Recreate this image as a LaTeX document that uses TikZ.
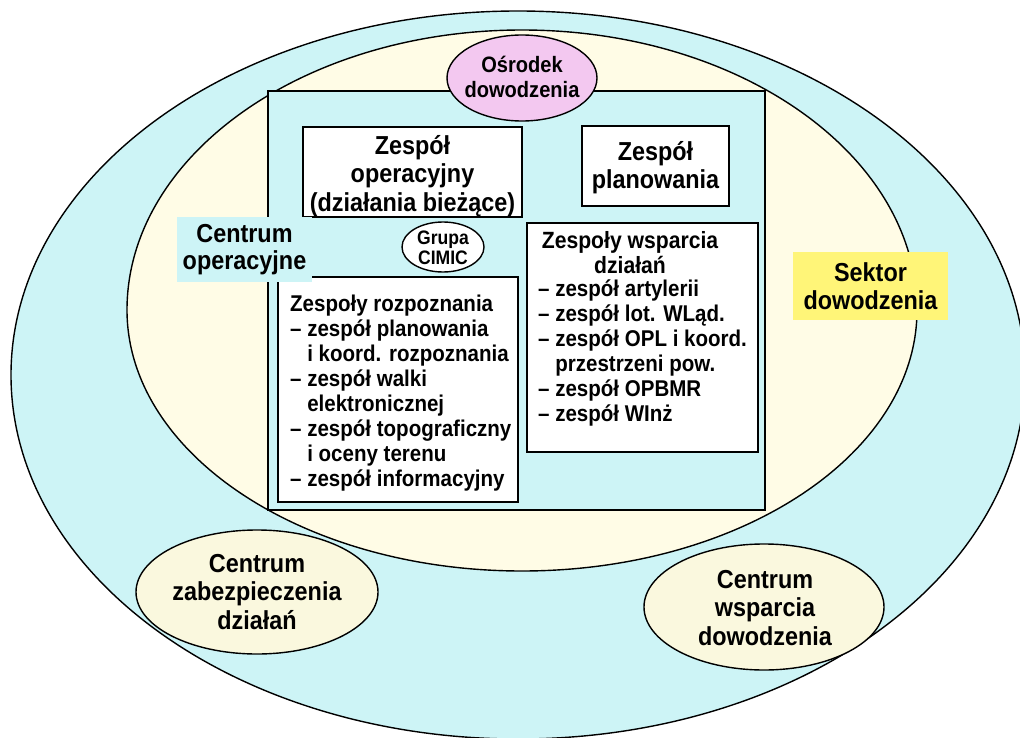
\documentclass[tikz,border=0pt]{standalone}
\usepackage{fontspec}
\setmainfont{Liberation Sans}[FakeStretch=0.9]
\usetikzlibrary{shapes.geometric}

\definecolor{skycyan}{RGB}{205,244,246}
\definecolor{paleyellow}{RGB}{255,252,230}
\definecolor{cream}{RGB}{250,248,222}
\definecolor{lilac}{RGB}{243,200,240}
\definecolor{labelyellow}{RGB}{255,245,120}

% dash of a list item and the matching hanging indent
\newcommand{\listdash}{\mbox{–\ }}
\newcommand{\listhang}{\mbox{\phantom{–\ }}}

\tikzset{
  outl/.style={draw=black, line width=1.4bp},
  whitebox/.style={outl, fill=white, inner sep=0pt},
  oval/.style={ellipse, outl, inner sep=0pt},
  bigtxt/.style={font=\fontsize{26bp}{28.5bp}\selectfont\bfseries, align=center, inner sep=0pt},
  listtxt/.style={font=\fontsize{22.8bp}{25bp}\selectfont\bfseries, align=left, inner sep=0pt},
  headtxt/.style={font=\fontsize{23.5bp}{25bp}\selectfont\bfseries, align=center, inner sep=0pt},
}

\begin{document}
\begin{tikzpicture}[x=1bp, y=-1bp]
\useasboundingbox (0,0) rectangle (1020,738);
\clip (0,0) rectangle (1020,738);
\fill[white] (0,0) rectangle (1020,738);

% command sector (outer ring)
\draw[outl, fill=skycyan] (518,375) ellipse [x radius=507bp, y radius=364bp];

% inner zone: two half ellipses sharing the horizontal axis
\draw[outl, fill=paleyellow]
  (127,310) .. controls (127,155.4) and (303.8,30) .. (522,30)
            .. controls (740.2,30) and (917,155.4) .. (917,310)
            .. controls (917,454.1) and (740.2,571) .. (522,571)
            .. controls (303.8,571) and (127,454.1) .. (127,310) -- cycle;

% lower centres
\node[oval, fill=cream, minimum width=242bp, minimum height=124bp] (zab) at (257,592) {};
\node[bigtxt] (zabtxt) at (zab.center) {Centrum\\zabezpieczenia\\działań};
\node[oval, fill=cream, minimum width=240bp, minimum height=126bp] (wsd) at (764,607) {};
\node[bigtxt] (wsdtxt) at (765,608) {Centrum\\wsparcia\\dowodzenia};

% operations centre
\node[outl, fill=skycyan, minimum width=497bp, minimum height=419bp, inner sep=0pt] (co) at (516.5,300.5) {};

% teams
\node[whitebox, minimum width=219bp, minimum height=90bp] (opbox) at (412.5,172) {};
\node[bigtxt] (optxt) at (412.5,176) {Zespół\\operacyjny\\(działania bieżące)};

\node[whitebox, minimum width=147bp, minimum height=80bp] (planbox) at (655.5,166) {};
\node[bigtxt] (plantxt) at (655.5,167.5) {Zespół\\planowania};

\node[whitebox, minimum width=231bp, minimum height=229bp] (wspbox) at (642.5,337.5) {};
\node[headtxt] (wsphead) at (630,253) {Zespoły wsparcia\\działań};
\node[listtxt, anchor=north west] (wsplist) at (538,280) {\listdash zespół artylerii\\
\listdash zespół lot. WLąd.\\
\listdash zespół OPL i koord.\\
\listhang przestrzeni pow.\\
\listdash zespół OPBMR\\
\listdash zespół WInż};

\node[whitebox, minimum width=240bp, minimum height=225bp] (rozbox) at (398,389.5) {};
\node[listtxt, anchor=north west] (rozlist) at (290,295) {Zespoły rozpoznania\\
\listdash zespół planowania\\
\listhang i koord. rozpoznania\\
\listdash zespół walki\\
\listhang elektronicznej\\
\listdash zespół topograficzny\\
\listhang i oceny terenu\\
\listdash zespół informacyjny};

\node[oval, fill=white, minimum width=82bp, minimum height=50bp] (cimic) at (443,247) {};
\node[font=\fontsize{19.5bp}{19.5bp}\selectfont\bfseries, align=center, inner sep=0pt] (cimictxt) at (443,248) {Grupa\\CIMIC};

% command post
\node[oval, fill=lilac, minimum width=150bp, minimum height=86bp] (osr) at (522,78) {};
\node[font=\fontsize{22.3bp}{25bp}\selectfont\bfseries, align=center, inner sep=0pt] (osrtxt) at (522,77) {Ośrodek\\dowodzenia};

% labels
\node[fill=skycyan, minimum width=135bp, minimum height=65bp, inner sep=1bp,
      font=\fontsize{26bp}{27bp}\selectfont\bfseries, align=center] (colab) at (244.5,249.5) {Centrum\\operacyjne};
\node[fill=labelyellow, minimum width=155bp, minimum height=68bp, inner sep=1bp,
      font=\fontsize{26bp}{28bp}\selectfont\bfseries, align=center] (sektor) at (870.5,286) {Sektor\\dowodzenia};
\end{tikzpicture}
\end{document}
